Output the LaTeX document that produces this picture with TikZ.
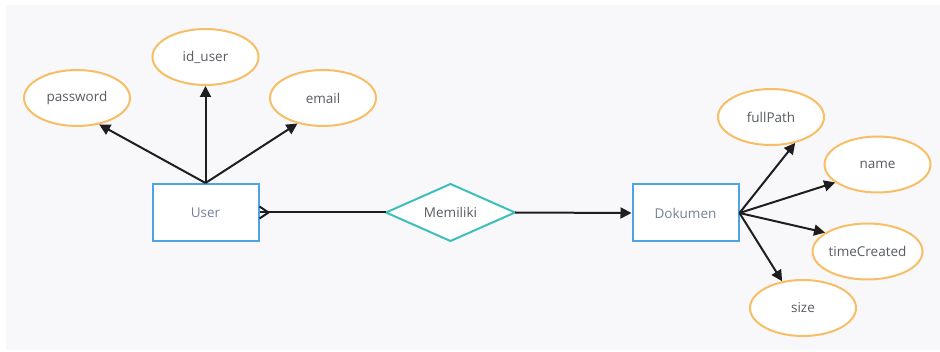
\documentclass[tikz,border=0pt]{standalone}
\usepackage{fontspec}
\setmainfont{Open Sans}
\usetikzlibrary{shapes.geometric,arrows.meta}
\definecolor{panel}{HTML}{F8F8FB}
\definecolor{attrline}{HTML}{F7BE66}
\definecolor{entline}{HTML}{4FA3E3}
\definecolor{relline}{HTML}{3DBFBA}
\definecolor{enttext}{HTML}{75809A}
\definecolor{attrtext}{HTML}{585C63}
\definecolor{conn}{HTML}{1E1E1E}
\tikzset{
  labelfont/.style={font=\fontsize{13.5}{15}\selectfont},
  attr/.style={ellipse, draw=attrline, fill=white, line width=2pt,
    minimum width=106pt, minimum height=56pt, inner sep=0pt,
    text=attrtext, labelfont},
  entity/.style={rectangle, draw=entline, fill=white, line width=2pt,
    minimum width=106pt, minimum height=57pt, inner sep=0pt,
    text=enttext, labelfont},
  link/.style={draw=conn, line width=2pt,
    -{Triangle[length=11pt,width=11pt]}},
  plain/.style={draw=conn, line width=2pt}
}
\begin{document}
\begin{tikzpicture}[x=1pt,y=-1pt]
  % canvas and backdrop
  \useasboundingbox (0,0) rectangle (940,352);
  \fill[white] (0,0) rectangle (940,352);
  \fill[panel] (6,5) rectangle (940,350);

  % entities
  \node[entity] (user) at (205.5,212.5) {User};
  \node[entity] (dok) at (685.5,213) {Dokumen};

  % relationship diamond
  \path[draw=relline, fill=white, line width=2pt]
    (386,212.5) coordinate (memL) -- (450.5,184) -- (515,212.5) coordinate (memR)
    -- (450.5,241) -- cycle;
  \node[text=attrtext, labelfont] (mem) at (450.5,212.5) {Memiliki};

  % attributes of User
  \node[attr] (pw) at (77,98) {password};
  \node[attr] (iduser) at (205.5,57) {id\_user};
  \node[attr] (email) at (323,98) {email};

  % attributes of Dokumen
  \node[attr] (full) at (771,117) {fullPath};
  \node[attr] (name) at (877.5,164.5) {name};
  \node[attr] (time) at (867.5,251.5) {timeCreated};
  \node[attr] (size) at (803,308) {size};

  % User attribute links
  \draw[link] (user.north) -- (pw.-50);
  \draw[link] (user.north) -- (iduser.south);
  \draw[link] (user.north) -- (email.-135);

  % Dokumen attribute links
  \draw[link] (dok.east) -- (full.-47);
  \draw[link] (dok.east) -- (name.-157);
  \draw[link] (dok.east) -- (time.156);
  \draw[link] (dok.east) -- (size.128);

  % User (many) -- Memiliki -- Dokumen
  \draw[plain] (user.east) -- (memL);
  \coordinate (fork) at ([xshift=9pt]user.east);
  \draw[plain] ([yshift=-6pt]user.east) -- (fork) -- ([yshift=6pt]user.east);
  \draw[link] (memR) -- (dok.west);
\end{tikzpicture}
\end{document}
